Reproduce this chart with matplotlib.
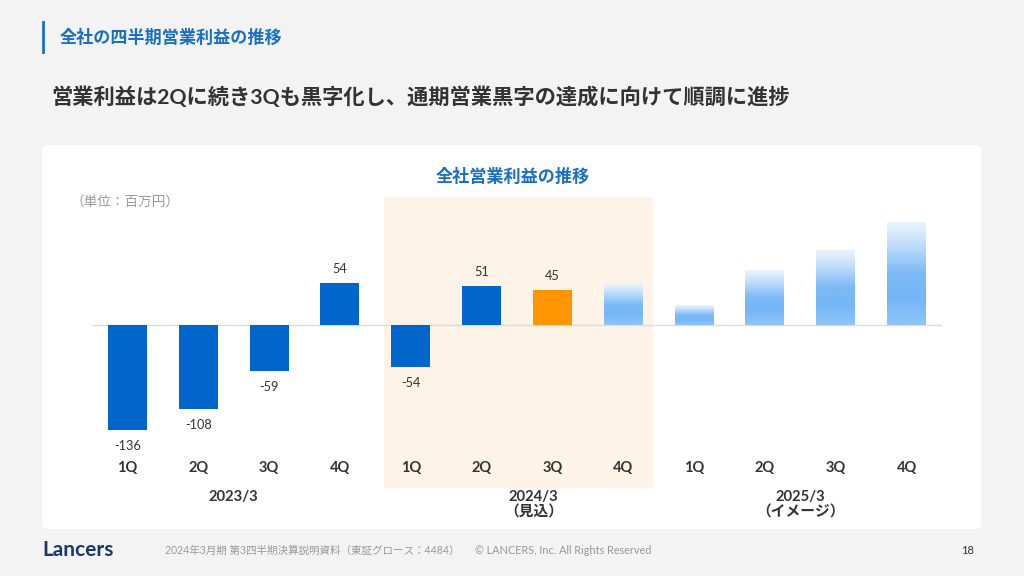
import numpy as np
import matplotlib
matplotlib.use('Agg')
import matplotlib.pyplot as plt
from matplotlib.patches import FancyBboxPatch
from matplotlib.colors import LinearSegmentedColormap
from matplotlib.transforms import blended_transform_factory

# Data (millions of yen)
quarters = ['1Q', '2Q', '3Q', '4Q'] * 3
actual = [-136, -108, -59, 54, -54, 51, 45]          # labelled bars
outlook = [52, 25, 70, 96, 133]                      # image bars
years = ['2023/3', '2024/3\n（見込）', '2025/3\n（イメージ）']
year_x = [1.5, 5.73, 9.5]

BLUE = '#0066cc'
ORANGE = '#ff9500'
HEAD_BLUE = '#1a6fc4'
JP = ['Lato', 'Noto Sans CJK JP', 'DejaVu Sans']

plt.rcParams['font.family'] = JP

W, H = 1024, 576
fig = plt.figure(figsize=(W / 100, H / 100), dpi=100)
fig.patch.set_facecolor('#f3f3f3')


def fx(px):
    return px / W


def fy(py):
    return 1 - py / H


# white card
card = FancyBboxPatch((fx(42), fy(529)), fx(981 - 42), (529 - 145) / H,
                      boxstyle='round,pad=0,rounding_size=0.008',
                      transform=fig.transFigure, facecolor='white',
                      edgecolor='none', zorder=-5)
fig.patches.append(card)

# header
fig.add_artist(plt.Line2D([fx(43), fx(43)], [fy(22), fy(52)], color=HEAD_BLUE,
                          lw=2, transform=fig.transFigure))
fig.text(fx(60), fy(37), '全社の四半期営業利益の推移', color=HEAD_BLUE,
         fontsize=12.3, fontweight='bold', va='center', ha='left')
fig.text(fx(51), fy(97), '営業利益は2Qに続き3Qも黒字化し、通期営業黒字の達成に向けて順調に進捗',
         color='#333333', fontsize=15.3, fontweight='bold', va='center', ha='left')

# chart
y0_px, ytop_px, ybot_px = 325, 197, 488
ppu = 0.774
ax = fig.add_axes([fx(92), fy(ybot_px), fx(942 - 92), (ybot_px - ytop_px) / H])
ax.set_zorder(1)
ax.set_facecolor('none')
for s in ax.spines.values():
    s.set_visible(False)
ax.set_xticks([])
ax.set_yticks([])

x = np.arange(len(quarters))
bw = 0.55

ax.axvspan(3.62, 7.42, color='#fdf3e6', zorder=0, lw=0)
ax.axhline(0, color='#dcdcdc', lw=1, zorder=1)

colors = [BLUE] * 6 + [ORANGE]
ax.bar(x[:len(actual)], actual, width=bw, color=colors, zorder=2)

for xi, v in zip(x, actual):
    off = 14 if v > 0 else -16
    ax.annotate(f'{v}', (xi, v), xytext=(0, off), textcoords='offset pixels',
                ha='center', va='center', fontsize=9.2, color='#333333')

cmap = LinearSegmentedColormap.from_list('fade', [
    (0.0, '#90c6f8'), (0.25, '#76b6f6'), (0.5, '#7cbaf6'),
    (0.85, '#cfe5fc'), (1.0, '#eaf4fe')])
grad = np.linspace(0, 1, 200).reshape(-1, 1)
for xi, v in zip(x[len(actual):], outlook):
    ax.imshow(grad, cmap=cmap, origin='lower', aspect='auto', zorder=2,
              extent=[xi - bw / 2, xi + bw / 2, 0, v], interpolation='bilinear')

ax.set_xlim(-0.5, 11.5)
ax.set_ylim(-(ybot_px - y0_px) / ppu, (y0_px - ytop_px) / ppu)

q_y = -(468 - y0_px) / ppu
for xi, q in zip(x, quarters):
    ax.text(xi, q_y, q, ha='center', va='center', fontsize=10.5,
            fontweight='bold', color='#333333')

tr = blended_transform_factory(ax.transData, fig.transFigure)
for xv, lab in zip(year_x, years):
    ax.text(xv, fy(490), lab, transform=tr, ha='center', va='top',
            fontsize=10.6, fontweight='bold', color='#333333',
            linespacing=1.15, clip_on=False)

fig.text(fx(513), fy(176), '全社営業利益の推移', color=HEAD_BLUE, fontsize=12.3,
         fontweight='bold', ha='center', va='center')
fig.text(fx(71), fy(201), '（単位：百万円）', color='#9a9a9a', fontsize=9.8,
         ha='left', va='center')

# footer
fig.text(fx(42), fy(550), 'Lancers', color='#1b3a6b', fontsize=15,
         fontweight='bold', ha='left', va='center', family='Lato')
fig.text(fx(165), fy(550), '2024年3月期 第3四半期決算説明資料（東証グロース：4484）',
         color='#999999', fontsize=7.6, ha='left', va='center')
fig.text(fx(475), fy(550), '© LANCERS, Inc. All Rights Reserved',
         color='#999999', fontsize=7.8, ha='left', va='center')
fig.text(fx(974), fy(551), '18', color='#333333', fontsize=8,
         ha='right', va='center')

fig.savefig('out.png', dpi=100, facecolor=fig.get_facecolor())
